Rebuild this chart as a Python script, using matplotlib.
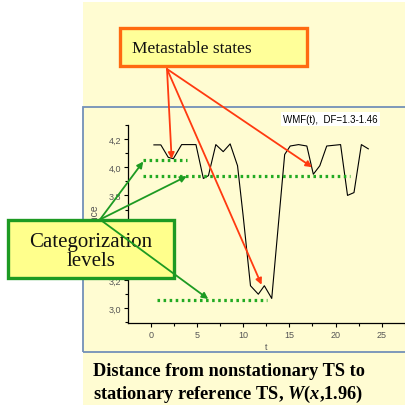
import matplotlib
matplotlib.use('Agg')
import matplotlib.pyplot as plt
from matplotlib.patches import Rectangle
from matplotlib.ticker import FuncFormatter, MultipleLocator

# distance series W(x,1.96)
t = [0.35, 1.1, 1.9, 2.45, 3.35, 4.9, 5.7, 6.25, 7.05, 7.85, 8.6, 9.4, 10.0, 10.8,
     11.65, 12.3, 13.1, 14.5, 15.1, 16.0, 16.9, 17.6, 18.3, 19.05, 20.55, 21.3,
     22.0, 22.8, 23.55]
dist = [4.158, 4.158, 4.07, 4.06, 4.16, 4.16, 3.92, 3.94, 4.16, 4.11, 4.165, 4.01,
        3.66, 3.16, 3.10, 3.16, 3.07, 4.09, 4.15, 4.16, 4.15, 3.95, 4.01, 4.15,
        4.16, 3.80, 3.82, 4.16, 4.13]

# categorization levels: value, start, end
level_y = [4.05, 3.94, 3.056]
level_x0 = [-0.8, -0.8, 0.7]
level_x1 = [3.9, 21.6, 12.6]

# arrow targets
meta_t = [2.27, 12.0, 17.47]
meta_d = [4.058, 3.167, 4.0]
cat_t = [-0.8, 3.9, 6.23]
cat_d = [4.04, 3.936, 3.066]

W, H = 405, 406
bg = '#fffcd2'
red = '#ff3a10'
green = '#1d9a22'

plt.rcParams['font.family'] = ['Liberation Sans', 'DejaVu Sans']
plt.rcParams['mathtext.fontset'] = 'custom'
plt.rcParams['mathtext.rm'] = 'Liberation Serif:bold'
plt.rcParams['mathtext.it'] = 'Liberation Serif:italic:bold'
plt.rcParams['mathtext.bf'] = 'Liberation Serif:bold'

fig = plt.figure(figsize=(W / 100, H / 100), dpi=100)
fig.patch.set_facecolor('white')


def fx(x):
    return x / W


def fy(y):
    return 1 - y / H


# yellow slide background and the graph panel frame
fig.patches.append(Rectangle((fx(82.5), 0), 1, fy(3), transform=fig.transFigure,
                             facecolor=bg, edgecolor='none', zorder=-2))
fig.patches.append(Rectangle((fx(83), fy(352.7)), 1, fy(108) - fy(352.7),
                             transform=fig.transFigure, facecolor='none',
                             edgecolor='#7390b8', lw=1.3, zorder=-1))

ax = fig.add_axes([fx(128.3), fy(324), 1 - fx(128.3), fy(125.7) - fy(324)])
ax.set_facecolor('none')
ax.plot(t, dist, color='black', lw=0.8)
for y, a, b in zip(level_y, level_x0, level_x1):
    ax.plot([a, b], [y, y], color='#22aa22', lw=2.3, linestyle=(0, (0.8, 1.1)))

ax.set_xlim(-2.42, 27.52)
ax.set_ylim(2.896, 4.301)
ax.spines['top'].set_visible(False)
ax.spines['right'].set_visible(False)
ax.spines['left'].set_linewidth(0.9)
ax.spines['bottom'].set_linewidth(0.9)
ax.xaxis.set_major_locator(MultipleLocator(5))
ax.xaxis.set_minor_locator(MultipleLocator(2.5))
ax.yaxis.set_major_locator(MultipleLocator(0.2))
ax.yaxis.set_minor_locator(MultipleLocator(0.1))
ax.yaxis.set_major_formatter(FuncFormatter(lambda v, p: f'{v:.1f}'.replace('.', ',')))
ax.tick_params(which='major', length=3, width=0.8, labelsize=6.5, labelcolor='#555555',
               pad=2)
ax.tick_params(which='minor', length=2, width=0.8)
ax.set_xlabel('t', fontsize=6.5, color='#555555', labelpad=2)
ax.set_ylabel('Distance', fontsize=7.5, color='#555555', labelpad=7)

fig.text(fx(283), fy(120), 'WMF(t),  DF=1.3-1.46', fontsize=7, va='center', ha='left',
         bbox=dict(facecolor='white', edgecolor='none', pad=1.5))

# overlay in pixel space for the callout boxes
ov = fig.add_axes([0, 0, 1, 1], zorder=5)
ov.set_xlim(0, W)
ov.set_ylim(H, 0)
ov.axis('off')

ov.add_patch(Rectangle((120, 29.3), 186.7, 37.4, facecolor='#ffff99',
                       edgecolor='#ff6a10', lw=2.4))
ov.text(132, 49, 'Metastable states', fontsize=12.5, family='Liberation Serif',
        va='center', ha='left', color='#111111')

ov.add_patch(Rectangle((8.3, 221), 165.7, 58, facecolor='#ffff8c',
                       edgecolor=green, lw=2.4))
ov.text(91, 252, 'Categorization\nlevels', fontsize=15, family='Liberation Serif',
        va='center', ha='center', color='#111111', linespacing=1.0)

for x, y in zip(meta_t, meta_d):
    ov.annotate('', xy=(x, y), xycoords=ax.transData, xytext=(167, 70),
                textcoords=ov.transData,
                arrowprops=dict(arrowstyle='-|>', color=red, lw=1.3,
                                mutation_scale=9, shrinkA=0, shrinkB=0))
for x, y in zip(cat_t, cat_d):
    ov.annotate('', xy=(x, y), xycoords=ax.transData, xytext=(100, 220.5),
                textcoords=ov.transData,
                arrowprops=dict(arrowstyle='-|>', color=green, lw=1.3,
                                mutation_scale=9, shrinkA=0, shrinkB=0))

fig.text(fx(93), fy(376), 'Distance from nonstationary TS to', fontsize=13.2,
         family='Liberation Serif', weight='bold', ha='left', va='baseline')
fig.text(fx(93), fy(399),
         r'$\mathrm{stationary\ reference\ TS{,}\ }W\mathrm{(}x\mathrm{{,}1.96)}$',
         fontsize=13.2, ha='left', va='baseline')

fig.savefig('out.png', dpi=100)
